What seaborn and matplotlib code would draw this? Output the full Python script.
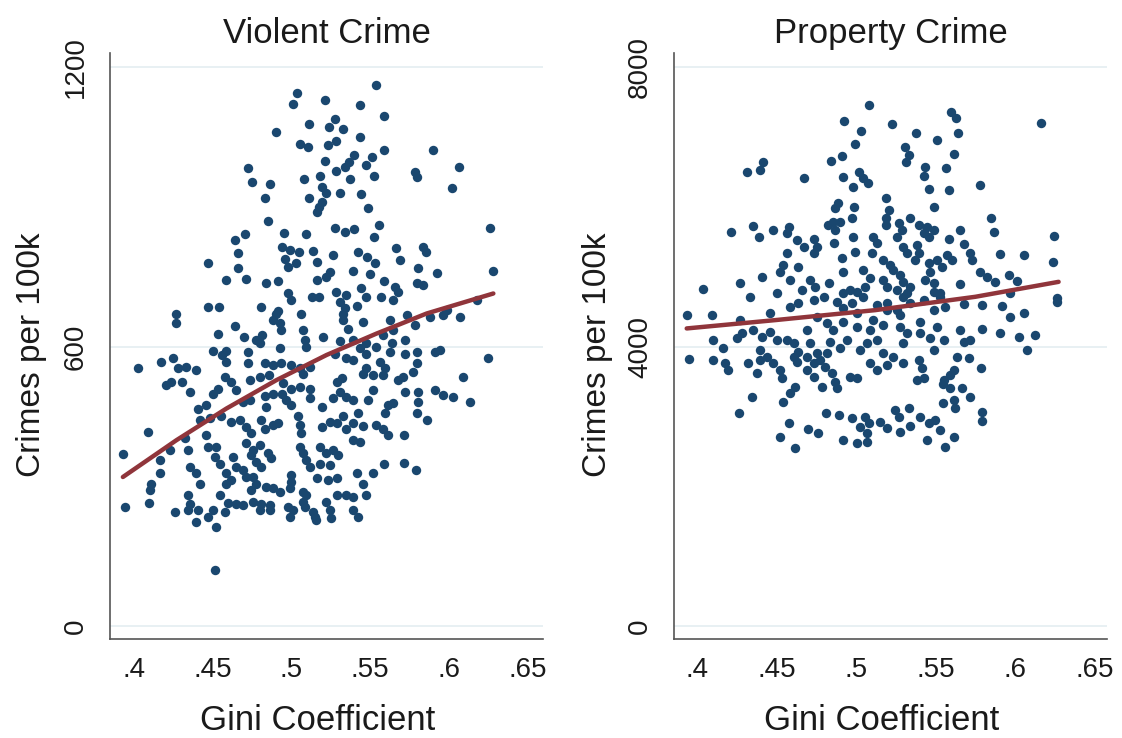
import matplotlib
matplotlib.use("Agg")
import matplotlib.pyplot as plt
import seaborn as sns
import pandas as pd

# (gini, violent crimes per 100k)
violent_pts = [
    (.5536, 1161), (.5038, 1145), (.5011, 1121), (.5214, 1129), (.5432, 1118), (.5588, 1095), (.511, 1078), (.5277, 1088), (.5239, 1072), (.5326, 1068),
    (.4905, 1060), (.5436, 1049), (.5053, 1036), (.5106, 1028), (.528, 1042), (.5235, 1033), (.5586, 1022), (.5899, 1022), (.6062, 986), (.5398, 1011),
    (.5514, 1008), (.5366, 997), (.5476, 990), (.534, 985), (.5285, 977), (.5523, 966), (.5214, 998), (.4725, 983), (.4751, 954), (.4863, 949),
    (.5079, 960), (.5184, 966), (.5374, 960), (.5783, 975), (.5793, 965), (.6015, 941), (.5197, 943), (.5218, 929), (.5307, 929), (.5444, 927),
    (.4835, 918), (.5112, 918), (.5191, 911), (.5176, 900), (.5487, 898), (.5163, 889), (.4852, 870), (.5557, 861), (.6259, 854), (.5275, 854),
    (.5339, 847), (.5396, 852), (.4956, 844), (.5095, 841), (.4706, 842), (.4643, 828), (.5523, 836), (.4664, 801), (.4943, 814), (.499, 807),
    (.5049, 804), (.4958, 789), (.5138, 806), (.5266, 796), (.5425, 804), (.5478, 793), (.5666, 811), (.5831, 813), (.5852, 804), (.5688, 786),
    (.5527, 780), (.5163, 782), (.4474, 780), (.4979, 771), (.5032, 779), (.4662, 768), (.5805, 768), (.592, 759), (.6276, 763), (.5388, 763),
    (.5243, 761), (.5497, 755), (.4715, 746), (.4584, 743), (.4842, 737), (.4916, 741), (.516, 743), (.5222, 750), (.5586, 741), (.5793, 736),
    (.5835, 732), (.5656, 728), (.5444, 726), (.4979, 714), (.5285, 718), (.5349, 711), (.5677, 718), (.5131, 706), (.5173, 706), (.5, 700),
    (.5476, 706), (.5571, 706), (.5307, 696), (.5647, 700), (.6174, 700), (.4472, 684), (.4542, 684), (.4809, 686), (.4916, 677), (.5339, 682),
    (.5413, 687), (.4267, 670), (.5064, 670), (.5984, 678), (.6068, 664),
    (.4267, 651), (.4905, 671), (.4926, 650), (.4884, 657), (.4937, 636), (.5324, 671), (.5328, 657), (.5455, 653), (.5624, 657), (.5645, 635),
    (.573, 668), (.5783, 646), (.5878, 664), (.5963, 668), (.4641, 644), (.4535, 627), (.4699, 621), (.4815, 625), (.4804, 607), (.4773, 614),
    (.5074, 635), (.5085, 614), (.5095, 600), (.5201, 621), (.5359, 637), (.5391, 614), (.5307, 611), (.5476, 607), (.5582, 625), (.5539, 600),
    (.5635, 607), (.5719, 614), (.4505, 591), (.4558, 582), (.4584, 591), (.4725, 589), (.4926, 596), (.6248, 575), (.4027, 553), (.4091, 417),
    (.3932, 369), (.3943, 256), (.4099, 265), (.4112, 306), (.4101, 292), (.4176, 567), (.425, 575), (.4282, 553), (.433, 556), (.4398, 550),
    (.4208, 517), (.4239, 524), (.4309, 524), (.4355, 503), (.4588, 566), (.458, 535), (.462, 524), (.4652, 507), (.4535, 510), (.4503, 499),
    (.4408, 467), (.4461, 474), (.4725, 564), (.4831, 564), (.4884, 560), (.4937, 564), (.5, 560), (.5053, 553), (.5117, 557), (.5074, 542),
    (.4736, 528), (.4804, 535), (.4858, 539), (.4947, 521), (.5, 510), (.5053, 514), (.5117, 510), (.4943, 499), (.4964, 485), (.4995, 474),
    (.4884, 499), (.4831, 494), (.4736, 485), (.4694, 481), (.4842, 471), (.5117, 489), (.5191, 471), (.5265, 489), (.5307, 503), (.5318, 532),
    (.5286, 525), (.5391, 485), (.5349, 492), (.5275, 585), (.5349, 575), (.5391, 572), (.5433, 596), (.5476, 585), (.5476, 553), (.5455, 542),
    (.5518, 539), (.556, 567), (.5592, 553), (.5582, 539), (.5624, 589), (.5719, 585), (.5793, 589), (.591, 589), (.5942, 593), (.5772, 546),
    (.5709, 535), (.5677, 528), (.5793, 564), (.609, 535), (.5518, 507), (.5487, 485), (.5645, 478), (.5592, 457), (.5719, 503), (.5804, 503),
    (.5804, 482), (.5793, 457), (.5857, 443), (.591, 507), (.5963, 496), (.6026, 492), (.6132, 482), (.4419, 443), (.4482, 446), (.4556, 450),
    (.4619, 439), (.4673, 443), (.4715, 428), (.4747, 414), (.4809, 443), (.4831, 424), (.4884, 431), (.4916, 435), (.5043, 450), (.5053, 431),
    (.5064, 414), (.5191, 428), (.5244, 439), (.5286, 435), (.5328, 450), (.5349, 424), (.5391, 435), (.5423, 457), (.5455, 429), (.5539, 431),
    (.5582, 424), (.5613, 410), (.5613, 474), (.5713, 410), (.4461, 410), (.4471, 385), (.4325, 403), (.4346, 378), (.4228, 378), (.4165, 356),
    (.4165, 328), (.4524, 385), (.4514, 363), (.4545, 349), (.463, 363), (.4651, 342), (.4715, 392), (.4757, 378), (.4799, 389), (.4747, 367),
    (.4778, 353), (.4809, 342), (.4852, 371), (.4873, 360), (.5053, 385), (.5074, 371), (.5095, 356), (.5117, 342), (.518, 385), (.5222, 371),
    (.5265, 378), (.5297, 367), (.518, 349), (.5244, 346), (.5391, 399), (.5433, 396), (.4355, 342), (.4398, 328), (.4419, 306), (.4588, 328),
    (.462, 313), (.4588, 306), (.4694, 335), (.4715, 321), (.4757, 321), (.4778, 306), (.4747, 292), (.4842, 299), (.4884, 296), (.4926, 288),
    (.5, 324), (.5, 310), (.499, 296), (.5074, 288), (.5095, 281), (.516, 317), (.5233, 313), (.5286, 317), (.5413, 328), (.5455, 306),
    (.5518, 328), (.559, 348), (.5716, 351), (.5789, 336), (.4345, 281), (.4355, 263), (.4408, 249), (.4345, 249), (.4261, 245), (.4398, 224),
    (.4472, 235), (.4503, 249), (.4525, 213), (.4545, 281), (.4598, 265), (.4651, 262), (.4694, 259), (.4577, 245), (.4757, 267), (.4809, 263),
    (.4862, 260), (.4799, 249), (.4862, 249), (.4979, 256), (.499, 235), (.5011, 249), (.5074, 267), (.5085, 256), (.5138, 245), (.5148, 235),
    (.5159, 228), (.5222, 267), (.5244, 249), (.5254, 231), (.5286, 281), (.5349, 281), (.5391, 278), (.5391, 249), (.5423, 235), (.5476, 281),
    (.4514, 120),
]

# (gini, property crimes per 100k)
property_pts = [
    (.5085, 7456), (.4926, 7227), (.5033, 7088), (.5228, 7184), (.5379, 7060), (.5509, 6964), (.56, 7360), (.5631, 7265), (.5641, 7064), (.6164, 7207),
    (.4991, 6893), (.5306, 6859), (.5331, 6740), (.5316, 6645), (.5618, 6750), (.4414, 6645), (.4397, 6525), (.4317, 6502), (.4844, 6654), (.4913, 6730),
    (.4676, 6406), (.4917, 6430), (.5016, 6502), (.5047, 6406), (.5073, 6344), (.498, 6287), (.5432, 6564), (.543, 6440), (.5568, 6559), (.5457, 6249),
    (.5583, 6239), (.5782, 6320), (.519, 6120), (.489, 6049), (.4865, 5977), (.4989, 6001), (.5211, 5953), (.5492, 6001), (.519, 5834), (.519, 5738),
    (.4974, 5843), (.4827, 5738), (.4858, 5786), (.49, 5786), (.4869, 5667), (.4214, 5643), (.4355, 5724), (.4393, 5571), (.4481, 5676), (.4581, 5714),
    (.4569, 5619), (.4628, 5524), (.467, 5428), (.4733, 5547), (.4754, 5428), (.4733, 5333), (.4565, 5333), (.4859, 5476), (.498, 5571), (.4995, 5357),
    (.4911, 5261), (.5106, 5571), (.5131, 5476), (.51, 5333), (.5268, 5762), (.5289, 5667), (.5257, 5571), (.5341, 5834), (.5394, 5738), (.5446, 5714),
    (.5488, 5667), (.5457, 5571), (.5425, 5619), (.5299, 5428), (.532, 5333), (.5383, 5452), (.5394, 5333), (.5373, 5238), (.5583, 5533), (.5656, 5667),
    (.5677, 5466), (.5719, 5333), (.573, 5238), (.5849, 5834), (.587, 5643), (.6248, 5586), (.5908, 5323), (.6055, 5309), (.6238, 5204), (.5509, 5238),
    (.5572, 5309), (.5604, 5238), (.5541, 5142), (.5173, 5238), (.5215, 5166), (.5236, 5094), (.5278, 5023), (.5299, 4927), (.5341, 4856), (.5457, 5190),
    (.5467, 5070), (.5436, 4951), (.5488, 4904), (.5047, 5094), (.5089, 4975), (.5058, 4856), (.4921, 5070), (.5173, 4951), (.5194, 4856), (.4523, 5070),
    (.4544, 5166), (.4638, 5142), (.4586, 4951), (.4407, 4999), (.4271, 4913), (.4036, 4818), (.4712, 4951), (.4743, 4856), (.4833, 4913), (.4334, 4713),
    (.4502, 4761), (.4659, 4808), (.5656, 4894), (.5782, 5070), (.5824, 4999), (.5877, 4927), (.5961, 5023), (.6013, 4942), (.5971, 4761), (.6265, 4689),
    (.4963, 4808), (.5005, 4784), (.4921, 4761), (.5257, 4808), (.532, 4761), (.5488, 4784), (.553, 4761),
    (.3939, 4450), (.4092, 4450), (.4271, 4379), (.446, 4484), (.4586, 4570), (.4638, 4617), (.4733, 4665), (.4796, 4713), (.4879, 4641), (.4921, 4546),
    (.4974, 4617), (.5047, 4713), (.5005, 4474), (.5131, 4593), (.5194, 4522), (.5299, 4713), (.5341, 4617), (.5278, 4450), (.5425, 4665), (.5488, 4522),
    (.553, 4713), (.5562, 4570), (.5677, 4608), (.5793, 4593), (.5918, 4579), (.5971, 4427), (.6055, 4474), (.6265, 4641), (.4103, 4093), (.4166, 3973),
    (.3952, 3816), (.4099, 3806), (.4176, 3759), (.4197, 3663), (.425, 4117), (.4281, 4188), (.4323, 3759), (.4376, 3616), (.4355, 4236), (.4407, 4140),
    (.4397, 3950), (.4439, 3854), (.4397, 3806), (.446, 4212), (.4502, 4093), (.4481, 3759), (.4523, 3663), (.4533, 3544), (.4565, 4093), (.4607, 4045),
    (.4607, 3854), (.4638, 3926), (.4628, 3783), (.4691, 4236), (.4712, 4045), (.4691, 3663), (.4733, 3568), (.4754, 3902), (.4775, 3806), (.4817, 3902),
    (.4806, 3711), (.4848, 3616), (.4869, 3496), (.4879, 3401), (.4785, 3425), (.4617, 3425), (.4586, 3330), (.4544, 3210), (.4344, 3282), (.4267, 3043),
    (.4581, 2910), (.4523, 2709), (.4617, 2542), (.4701, 2814), (.4764, 2767), (.4812, 3043), (.4896, 3019), (.4974, 2972), (.4921, 2662), (.5005, 2614),
    (.5026, 2852), (.5058, 2995), (.5079, 2900), (.5068, 2757), (.5068, 2638), (.5152, 2924), (.5194, 2829), (.5247, 3091), (.5268, 2995), (.5331, 3115),
    (.5278, 2781), (.5341, 2862), (.5404, 2995), (.5457, 2900), (.5499, 2948), (.5446, 2662), (.5526, 2805), (.5562, 2566), (.5614, 2709), (.5547, 3186),
    (.5614, 3234), (.5625, 3115), (.5547, 3472), (.5593, 3401), (.5667, 3401), (.5719, 3282), (.5793, 3067), (.5793, 2934), (.5786, 3687), (.5635, 3854),
    (.5709, 3830), (.5677, 4069), (.5719, 4093), (.5614, 3663), (.5593, 3592), (.5551, 3520), (.5425, 3544), (.5383, 3520), (.5394, 3806), (.5415, 3687),
    (.5656, 4236), (.5793, 4245), (.5908, 4188), (.6023, 4140), (.6128, 4164), (.6076, 3950), (.4963, 3568), (.5005, 3544), (.5131, 3663), (.5089, 3759),
    (.5194, 3735), (.5173, 3902), (.5236, 3854), (.5299, 3759), (.5026, 3950), (.5068, 4045), (.5131, 4093), (.4942, 4093), (.49, 3973), (.4838, 4069),
    (.5005, 4283), (.5089, 4236), (.5173, 4307), (.5278, 4283), (.532, 4188), (.5404, 4188), (.5467, 4117), (.5509, 4283), (.5551, 4093), (.5488, 3950),
    (.4754, 4427), (.4817, 4331), (.4921, 4355), (.4858, 4236), (.4691, 3854), (.4733, 3759), (.5257, 4522), (.5194, 4617), (.511, 4379), (.5404, 4355),
    (.5299, 4045),
]

# fitted lines
fit_violent_gini = [.3932, .4271, .4588, .4905, .5223, .554, .5857, .628]
fit_violent = [320, 399, 467, 528, 582, 628, 671, 714]
fit_property_gini = [.3935, .4491, .5121, .5751, .6275]
fit_property = [4260, 4379, 4522, 4713, 4927]

gini_ticks = [.4, .45, .5, .55, .6, .65]
gini_labels = [".4", ".45", ".5", ".55", ".6", ".65"]

NAVY = "#1a476f"
MAROON = "#90353b"
TEXT = "#1a1a1a"

sns.set_style("white")
plt.rcParams["font.family"] = ["Liberation Sans", "DejaVu Sans"]
plt.rcParams["text.color"] = TEXT
plt.rcParams["axes.labelcolor"] = TEXT
plt.rcParams["xtick.color"] = TEXT
plt.rcParams["ytick.color"] = TEXT

df_v = pd.DataFrame(violent_pts, columns=["gini", "crime"])
df_p = pd.DataFrame(property_pts, columns=["gini", "crime"])
fit_v = pd.DataFrame({"gini": fit_violent_gini, "crime": fit_violent})
fit_p = pd.DataFrame({"gini": fit_property_gini, "crime": fit_property})

fig = plt.figure(figsize=(11.22, 7.38), dpi=100)
ax1 = fig.add_axes([0.098, 0.134, 0.386, 0.794])
ax2 = fig.add_axes([0.6007, 0.134, 0.386, 0.794])

panels = [
    (ax1, df_v, fit_v, "Violent Crime", [0, 600, 1200], (-28, 1230), (.385, .6595), -0.145),
    (ax2, df_p, fit_p, "Property Crime", [0, 4000, 8000], (-186, 8200), (.3855, .658), -0.141),
]

for ax, df, fit, title, yticks, ylim, xlim, ylab_x in panels:
    for y in yticks:
        ax.axhline(y, color="#e4eef1", lw=1.2, zorder=0)
    sns.scatterplot(data=df, x="gini", y="crime", ax=ax, color=NAVY, s=46,
                    linewidth=0, zorder=2)
    sns.lineplot(data=fit, x="gini", y="crime", ax=ax, color=MAROON, lw=3.2,
                 zorder=3)
    ax.set_xlim(*xlim)
    ax.set_ylim(*ylim)
    ax.set_xticks(gini_ticks)
    ax.set_xticklabels(gini_labels)
    ax.set_yticks(yticks)
    ax.set_yticklabels([str(t) for t in yticks], rotation=90, va="center")
    ax.tick_params(axis="both", labelsize=20, length=6, width=1.2,
                   color="#555555", direction="out")
    ax.tick_params(axis="x", pad=7)
    ax.tick_params(axis="y", pad=9)
    for side in ["top", "right"]:
        ax.spines[side].set_visible(False)
    for side in ["left", "bottom"]:
        ax.spines[side].set_color("#555555")
        ax.spines[side].set_linewidth(1.2)
    ax.set_title(title, fontsize=25, pad=7)
    ax.set_xlabel("Gini Coefficient", fontsize=25)
    ax.set_ylabel("Crimes per 100k", fontsize=24)
    ax.xaxis.set_label_coords(0.48, -0.111)
    ax.yaxis.set_label_coords(ylab_x, 0.485)

fig.savefig("out.png", dpi=100)
